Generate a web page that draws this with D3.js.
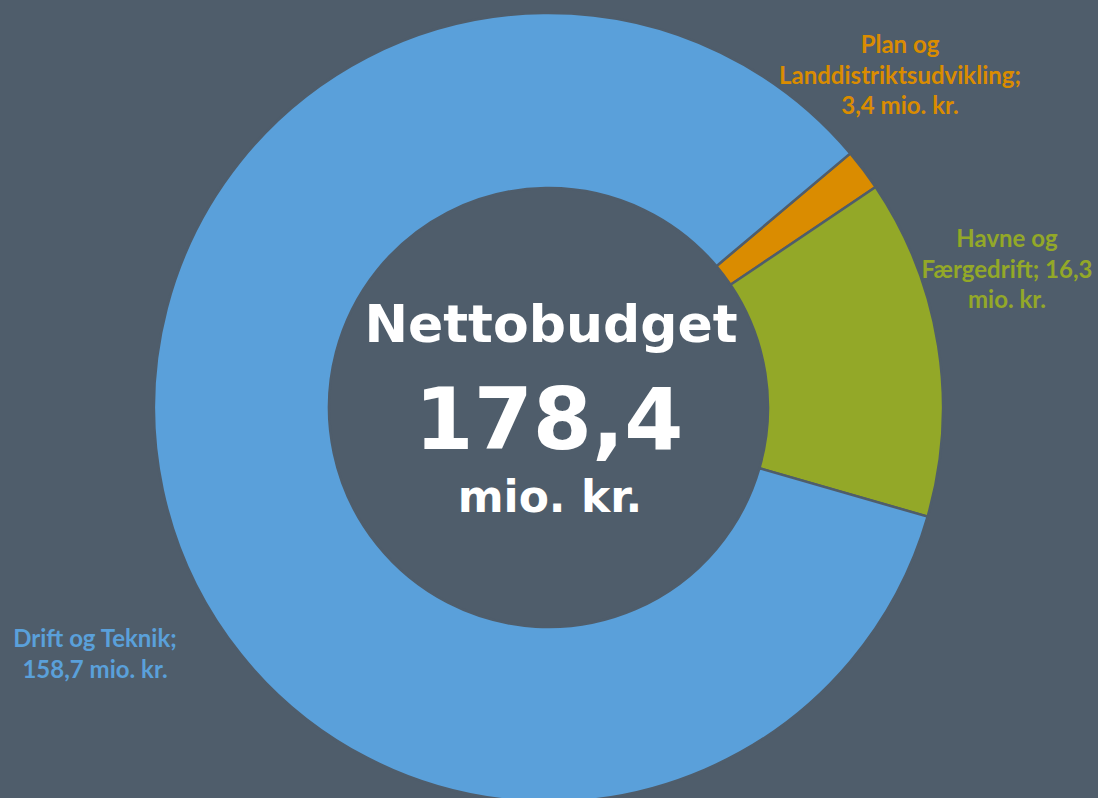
<!DOCTYPE html>
<html>
<head>
<meta charset="utf-8">
<script src="https://cdn.jsdelivr.net/npm/d3@7"></script>
<style>
  html, body { margin: 0; padding: 0; background: #4f5d6b; }
  svg { display: block; }
</style>
</head>
<body>
<div id="chart"></div>
<script>
// categories in drawing order (clockwise from the orange slice)
var categories = ["Plan og Landdistriktsudvikling", "Havne og Færgedrift", "Drift og Teknik"];
// amounts shown in the labels, mio. kr.
var amounts = [3.4, 16.3, 158.7];
// slice shares as drawn in the picture, percent
var shares = [1.7, 13.9, 84.4];
// label text split into lines as in the picture
var labelLines = [
    ["Plan og", "Landdistriktsudvikling;", "3,4 mio. kr."],
    ["Havne og", "Færgedrift; 16,3", "mio. kr."],
    ["Drift og Teknik;", "158,7 mio. kr."]
];
var total = "178,4";

var width = 1098, height = 798;
var cx = 548.5, cy = 407.5;
var outerR = 394.5, innerR = 219.5;
var colors = ["#da8c00", "#93a828", "#5aa0da"];
var bg = "#4f5d6b";
// where each label block sits (centre x, first baseline y)
var labelPos = [[900, 53], [1007, 247], [95, 647]];
var lineGap = 30.5;

var svg = d3.select("#chart")
    .append("svg")
    .attr("width", width)
    .attr("height", height);

svg.append("rect")
    .attr("width", width)
    .attr("height", height)
    .attr("fill", bg);

var pie = d3.pie()
    .sort(null)
    .value(function (d) { return d; })
    .startAngle(49.9 * Math.PI / 180)
    .endAngle(49.9 * Math.PI / 180 + 2 * Math.PI);

var arc = d3.arc()
    .innerRadius(innerR)
    .outerRadius(outerR);

var g = svg.append("g")
    .attr("transform", "translate(" + cx + "," + cy + ")");

g.selectAll("path.slice")
    .data(pie(shares))
    .enter()
    .append("path")
    .attr("class", "slice")
    .attr("d", arc)
    .attr("fill", function (d, i) { return colors[i]; })
    .attr("stroke", bg)
    .attr("stroke-width", 2.5)
    .attr("stroke-linejoin", "miter");

// slice labels
var labels = svg.selectAll("text.label")
    .data(categories)
    .enter()
    .append("text")
    .attr("class", "label")
    .attr("text-anchor", "middle")
    .attr("font-family", "Lato, 'Open Sans', sans-serif")
    .attr("font-weight", "bold")
    .attr("font-size", "24px")
    .attr("fill", function (d, i) { return colors[i]; })
    .attr("x", function (d, i) { return labelPos[i][0]; })
    .attr("y", function (d, i) { return labelPos[i][1]; });

labels.each(function (d, i) {
    var t = d3.select(this);
    labelLines[i].forEach(function (line, j) {
        t.append("tspan")
            .attr("x", labelPos[i][0])
            .attr("y", labelPos[i][1] + j * lineGap)
            .text(line);
    });
});

// centre text
var centre = svg.append("g")
    .attr("font-family", "'DejaVu Sans', Verdana, sans-serif")
    .attr("font-weight", "bold")
    .attr("fill", "#ffffff")
    .attr("text-anchor", "middle");

centre.append("text")
    .attr("x", 551)
    .attr("y", 342)
    .attr("font-size", "52px")
    .text("Nettobudget");

centre.append("text")
    .attr("x", 549)
    .attr("y", 449)
    .attr("font-size", "85px")
    .text(total);

centre.append("text")
    .attr("x", 550)
    .attr("y", 512)
    .attr("font-size", "44px")
    .text("mio. kr.");
</script>
</body>
</html>
